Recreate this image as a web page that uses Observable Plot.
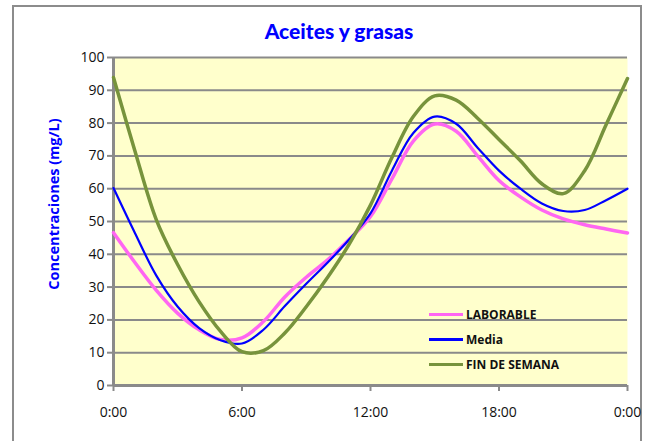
<!DOCTYPE html>
<html>
<head>
<meta charset="utf-8">
<script src="https://cdn.jsdelivr.net/npm/d3@7"></script>
<script src="https://cdn.jsdelivr.net/npm/@observablehq/plot@0.6"></script>
<style>
  html, body { margin: 0; padding: 0; background: #fff; }
  #wrap { position: relative; width: 653px; height: 441px; overflow: hidden; font-family: "Open Sans", sans-serif; }
  #frame { position: absolute; left: 12px; top: 5px; width: 630px; height: 450px; border: 2px solid #8c8c8c; box-sizing: border-box; pointer-events: none; }
  #title { position: absolute; left: 0; width: 678px; top: 18px; text-align: center; font-family: Lato, sans-serif; font-weight: 900; font-size: 21px; color: #0000ff; }
  #ylabel { position: absolute; left: 53px; top: 204px; transform: translate(-50%, -50%) rotate(-90deg); white-space: nowrap; font-family: "Open Sans", sans-serif; font-weight: 700; font-size: 14.5px; color: #0000ff; }
  #legend { position: absolute; left: 429px; top: 302px; font-family: "Open Sans", sans-serif; font-weight: 700; font-size: 12px; color: #111; }
  #legend .row { display: flex; align-items: center; height: 25px; }
  #legend .sw { width: 34px; margin-right: 3px; }
  #chart svg { position: absolute; left: 0; top: 0; }
</style>
</head>
<body>
<div id="wrap">
  <div id="frame"></div>
  <div id="chart"></div>
  <div id="title">Aceites y grasas</div>
  <div id="ylabel">Concentraciones (mg/L)</div>
  <div id="legend"></div>
</div>
<script>
const hours = [0,1,2,3,4,5,6,7,8,9,10,11,12,13,14,15,16,17,18,19,20,21,22,23,24];
const laborable = [46.6, 37.5, 29.0, 22.0, 17.0, 14.0, 14.5, 19.5, 27.0, 33.0, 38.3, 44.5, 51.5, 63.0, 74.5, 79.7, 77.5, 70.0, 62.5, 57.5, 53.5, 50.8, 49.0, 47.7, 46.5];
const media = [60.2, 46.5, 33.5, 24.0, 17.5, 13.8, 12.8, 17.0, 24.2, 31.0, 37.5, 44.5, 52.5, 65.5, 77.0, 82.0, 79.8, 72.5, 65.5, 60.0, 55.5, 53.2, 53.5, 56.5, 60.0];
const finSemana = [93.9, 71.5, 50.5, 36.8, 25.5, 16.5, 10.3, 10.6, 16.0, 24.0, 33.0, 43.0, 55.0, 69.5, 82.0, 88.3, 87.0, 81.5, 75.0, 68.5, 61.5, 58.5, 65.5, 79.5, 93.6];
const seriesNames = ["LABORABLE", "Media", "FIN DE SEMANA"];
const seriesColors = ["#ff66f2", "#0000ff", "#77933c"];
const seriesWidths = [3.5, 2.2, 3.5];
const xTicks = [0, 6, 12, 18, 24];
const yTicks = [0, 10, 20, 30, 40, 50, 60, 70, 80, 90, 100];

const seriesValues = [laborable, media, finSemana];
const rows = seriesValues.map((vals, i) => hours.map((h, j) => ({h, v: vals[j], s: seriesNames[i]})));

const plot = Plot.plot({
  width: 653,
  height: 441,
  marginLeft: 113,
  marginRight: 26,
  marginTop: 57,
  marginBottom: 56,
  style: {fontFamily: "'Open Sans', sans-serif", fontSize: "14px", background: "transparent", color: "#111", overflow: "visible"},
  x: {domain: [0, 24]},
  y: {domain: [0, 100]},
  marks: [
    Plot.frame({fill: "#ffffcc", stroke: null}),
    Plot.gridY(yTicks, {stroke: "#8a8a8a", strokeOpacity: 1, strokeWidth: 2}),
    Plot.axisY(yTicks, {tickSize: 6, tickPadding: 3, stroke: "#8a8a8a", strokeWidth: 2, label: null, fill: "#111", fontSize: 14}),
    Plot.axisX(xTicks, {tickSize: 6, tickPadding: 16, stroke: "#8a8a8a", strokeWidth: 2, label: null, fill: "#111", fontSize: 14, tickFormat: d => `${d % 24}:00`}),
    Plot.ruleX([0], {stroke: "#8a8a8a", strokeWidth: 3}),
    Plot.ruleY([0], {stroke: "#8a8a8a", strokeWidth: 3}),
    ...rows.map((r, i) => Plot.line(r, {x: "h", y: "v", stroke: seriesColors[i], strokeWidth: seriesWidths[i], curve: "catmull-rom"}))
  ]
});
document.getElementById("chart").appendChild(plot);

const legend = document.getElementById("legend");
seriesNames.forEach((name, i) => {
  const row = document.createElement("div");
  row.className = "row";
  const sw = document.createElement("div");
  sw.className = "sw";
  sw.style.height = seriesWidths[i] + "px";
  sw.style.background = seriesColors[i];
  const t = document.createElement("span");
  t.textContent = name;
  row.appendChild(sw);
  row.appendChild(t);
  legend.appendChild(row);
});
</script>
</body>
</html>
